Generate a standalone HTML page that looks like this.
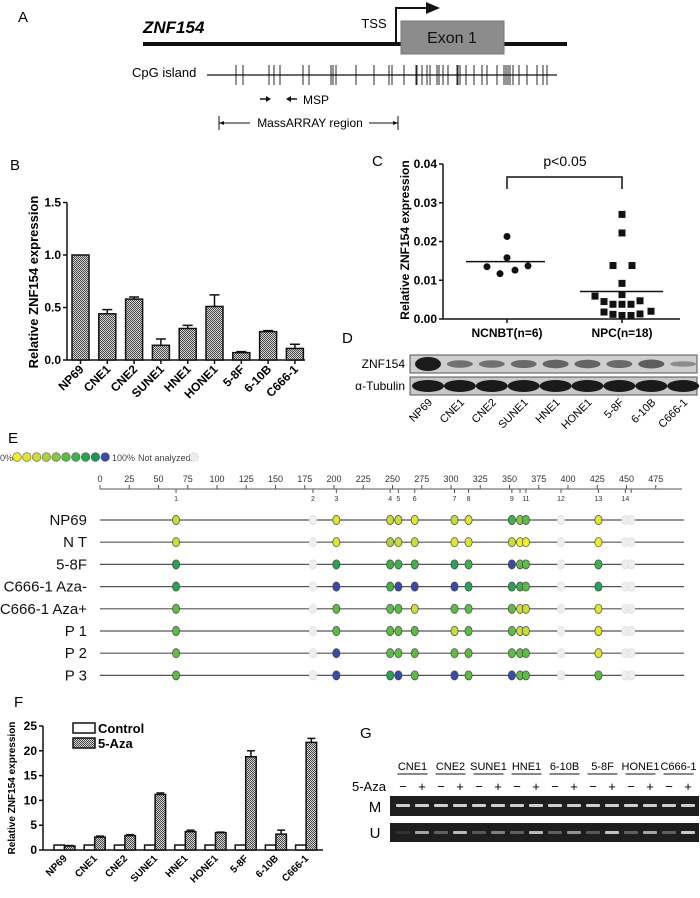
<!DOCTYPE html>
<html><head><meta charset="utf-8">
<style>
html,body{margin:0;padding:0;background:#fff;}
svg{display:block;font-family:"Liberation Sans",Arial,sans-serif;}
</style></head>
<body>
<svg id="fig" width="700" height="898" viewBox="0 0 700 898" xmlns="http://www.w3.org/2000/svg">
<defs>
<pattern id="hatch" width="2" height="2" patternUnits="userSpaceOnUse">
<rect width="2" height="2" fill="#d8d8d8"/><rect width="1" height="1" fill="#444"/><rect x="1" y="1" width="1" height="1" fill="#444"/>
</pattern>
</defs>
<!-- Panel A -->
<g>
<text x="18" y="22" font-size="15">A</text>
<text x="143" y="33" font-size="17" font-weight="bold" font-style="italic">ZNF154</text>
<line x1="143" y1="44" x2="567" y2="44" stroke="#111" stroke-width="4"/>
<rect x="401" y="21" width="103" height="33" fill="#8c8c8c" stroke="#777"/>
<text x="452" y="43" font-size="16" text-anchor="middle" fill="#111">Exon 1</text>
<path d="M396 44 V8 H428" fill="none" stroke="#111" stroke-width="2"/>
<polygon points="426,2 440,8 426,14" fill="#111"/>
<text x="374" y="28" font-size="13" text-anchor="middle">TSS</text>
<text x="132" y="77" font-size="13">CpG island</text>
<line x1="207" y1="75" x2="557" y2="75" stroke="#111" stroke-width="1.2"/>
<g id="cpgTicks"></g>
<line x1="260" y1="99" x2="268" y2="99" stroke="#111" stroke-width="1.5"/>
<polygon points="266,96 271,99 266,102" fill="#111"/>
<line x1="289" y1="99" x2="297" y2="99" stroke="#111" stroke-width="1.5"/>
<polygon points="291,96 286,99 291,102" fill="#111"/>
<text x="303" y="104" font-size="12">MSP</text>
<line x1="219" y1="116" x2="219" y2="130" stroke="#111"/>
<line x1="398" y1="116" x2="398" y2="130" stroke="#111"/>
<line x1="219" y1="123" x2="250" y2="123" stroke="#111"/>
<line x1="369" y1="123" x2="398" y2="123" stroke="#111"/>
<polygon points="219,123 224,121 224,125" fill="#111"/>
<polygon points="398,123 393,121 393,125" fill="#111"/>
<text x="310" y="127" font-size="12" text-anchor="middle">MassARRAY region</text>
</g>
<g id="panelB"></g>
<g id="panelC"></g>
<g id="panelD"></g>
<g id="panelE"></g>
<g id="panelF"></g>
<g id="panelG"></g>
</svg>
<script>
// ---- Data ----
const cpgPositions = [236,243,269,274,280,303,309,331,333,336,356,374,389,392,404,416,417,422,427,430,437,439,443,448,457,458,460,466,474,482,487,497,504,506,508,510,513,519,527,537,543,547];
const cellLines = ["NP69","CNE1","CNE2","SUNE1","HNE1","HONE1","5-8F","6-10B","C666-1"];
const exprB = [1.0,0.44,0.58,0.14,0.30,0.51,0.07,0.27,0.11];
const errB = [0,0.04,0.02,0.06,0.03,0.11,0.01,0.01,0.04];
const ticksB = [0,0.5,1.0,1.5];
const ncnbtVals = [0.0213,0.0158,0.0135,0.0117,0.0126,0.0137];
const ncnbtOff = [0,0,-20,-7,8,21];
const npcVals = [0.027,0.0222,0.0138,0.0138,0.0092,0.0063,0.0059,0.0045,0.0038,0.0038,0.0038,0.0047,0.0018,0.0012,0.0009,0.0009,0.0013,0.002];
const npcOff = [0,0,-9,10,0,0,-27,-18,-9,0,9,18,-18,-9,0,9,18,29];
const ticksC = [0,0.01,0.02,0.03,0.04];
const ncnbtMean = 0.0148, npcMean = 0.0071;
const sitePos = [65,182,202,248,255,269,303,315,352,359,364,394,426,449,454];
const siteLabels = ["1","2","3","4","5","6","7","8","9","","11","12","13","14",""];
const ticksE = [0,25,50,75,100,125,150,175,200,225,250,275,300,325,350,375,400,425,450,475];
const rowNames = ["NP69","N T","5-8F","C666-1 Aza-","C666-1 Aza+","P 1","P 2","P 3"];
// methylation level index per site (0..9), -1 = not analyzed
const methNP69 = [2,-1,1,2,2,1,2,1,6,4,5,-1,1,-1,-1];
const methNT   = [2,-1,1,3,2,2,1,1,2,0,0,-1,0,-1,-1];
const meth58F  = [7,-1,7,6,6,6,7,6,9,5,5,-1,6,-1,-1];
const methAzaM = [7,-1,9,6,9,9,9,7,7,6,5,-1,7,-1,-1];
const methAzaP = [5,-1,5,5,5,2,5,5,5,2,2,-1,1,-1,-1];
const methP1   = [5,-1,5,5,5,5,2,5,5,2,2,-1,1,-1,-1];
const methP2   = [5,-1,9,5,5,5,5,5,5,5,5,-1,1,-1,-1];
const methP3   = [5,-1,9,7,9,5,9,5,9,5,5,-1,5,-1,-1];
const methRows = [methNP69,methNT,meth58F,methAzaM,methAzaP,methP1,methP2,methP3];
const ctrlF = [1,1,1,1,1,1,1,1,1];
const azaF = [0.8,2.6,2.9,11.2,3.7,3.5,18.8,3.2,21.7];
const azaErr = [0.1,0.2,0.2,0.3,0.3,0.1,1.2,0.8,0.8];
const ticksF = [0,5,10,15,20,25];
const gelLines = ["CNE1","CNE2","SUNE1","HNE1","6-10B","5-8F","HONE1","C666-1"];
const uBand = [0.1,0.7,0.35,0.8,0.3,0.5,0.35,0.8,0.35,0.6,0.3,0.85,0.35,0.7,0.35,0.9];
const blotZNF = [1.0,0.35,0.35,0.4,0.45,0.45,0.4,0.5,0.15];

const NS="http://www.w3.org/2000/svg";
function el(tag, attrs, parent, txt){const e=document.createElementNS(NS,tag);for(const k in attrs)e.setAttribute(k,attrs[k]);if(txt!==undefined)e.textContent=txt;parent.appendChild(e);return e;}
const colors=["#f2ee2a","#dfe630","#cadc38","#abd23c","#86c83e","#5cbc44","#40b04a","#2aa254","#1b955e","#3a4aa8"];

// CpG ticks
const cg=document.getElementById('cpgTicks');
cpgPositions.forEach(x=>{const t=el('line',{x1:x,y1:65,x2:x,y2:85,stroke:'#111','stroke-width':0.9},cg);

});

// Panel B
(function(){
const g=document.getElementById('panelB');
const x0=67,y0=360,ppu=105,cx0=80.5,dx=26.8,bw=17;
const yB=v=>y0-v*ppu;
el('text',{x:10,y:170,'font-size':15},g,'B');
el('line',{x1:x0,y1:yB(1.5),x2:x0,y2:y0,stroke:'#111','stroke-width':1.5},g);
el('line',{x1:x0,y1:y0,x2:305,y2:y0,stroke:'#111','stroke-width':1.5},g);
ticksB.forEach(t=>{el('line',{x1:x0-4,y1:yB(t),x2:x0,y2:yB(t),stroke:'#111','stroke-width':1.5},g);
const tx=el('text',{x:x0-6,y:yB(t)+4,'font-size':12,'font-weight':'bold','text-anchor':'end'},g,t.toFixed(1));

});
const yt=el('text',{x:0,y:0,'font-size':13,'font-weight':'bold','text-anchor':'middle',transform:'translate(38,282) rotate(-90)'},g,'Relative ZNF154 expression');


exprB.forEach((v,i)=>{const cx=cx0+i*dx;
el('line',{x1:cx,y1:y0,x2:cx,y2:y0+4,stroke:'#111','stroke-width':1.5},g);
const b=el('rect',{x:cx-bw/2,y:yB(v),width:bw,height:y0-yB(v),fill:'url(#hatch)',stroke:'#111','stroke-width':1.5},g);


if(errB[i]>0){el('line',{x1:cx,y1:yB(v),x2:cx,y2:yB(v+errB[i]),stroke:'#111','stroke-width':1.5},g);
el('line',{x1:cx-5,y1:yB(v+errB[i]),x2:cx+5,y2:yB(v+errB[i]),stroke:'#111','stroke-width':1.5},g);}
const l=el('text',{x:0,y:0,'font-size':12,'font-weight':'bold','text-anchor':'end',transform:`translate(${cx+4},${y0+10}) rotate(-45)`},g,cellLines[i]);

});
})();

// Panel C
(function(){
const g=document.getElementById('panelC');
const x0=443,y0=319,ppu=3875,cA=507,cB=622;
const yC=v=>y0-v*ppu;
el('text',{x:372,y:166,'font-size':15},g,'C');
el('line',{x1:x0,y1:yC(0.04),x2:x0,y2:y0,stroke:'#111','stroke-width':1.5},g);
el('line',{x1:x0,y1:y0,x2:680,y2:y0,stroke:'#111','stroke-width':1.5},g);
ticksC.forEach(t=>{el('line',{x1:x0-4,y1:yC(t),x2:x0,y2:yC(t),stroke:'#111','stroke-width':1.5},g);
const tx=el('text',{x:x0-6,y:yC(t)+4,'font-size':12,'font-weight':'bold','text-anchor':'end'},g,t.toFixed(2));

});
[cA,cB].forEach(c=>el('line',{x1:c,y1:y0,x2:c,y2:y0+4,stroke:'#111','stroke-width':1.5},g));
const yt=el('text',{x:0,y:0,'font-size':12,'font-weight':'bold','text-anchor':'middle',transform:'translate(409,240) rotate(-90)'},g,'Relative ZNF154 expression');


el('text',{x:cA,y:337,'font-size':12,'font-weight':'bold','text-anchor':'middle'},g,'NCNBT(n=6)');
el('text',{x:cB,y:337,'font-size':12,'font-weight':'bold','text-anchor':'middle'},g,'NPC(n=18)');
el('path',{d:`M${cA} 189 V177 H${cB} V189`,fill:'none',stroke:'#111','stroke-width':1.5},g);
el('text',{x:565,y:166,'font-size':14,'text-anchor':'middle'},g,'p<0.05');
ncnbtVals.forEach((v,i)=>{const d=el('circle',{cx:cA+ncnbtOff[i],cy:yC(v),r:3.5,fill:'#111'},g);

});
npcVals.forEach((v,i)=>{const d=el('rect',{x:cB+npcOff[i]-3.5,y:yC(v)-3.5,width:7,height:7,fill:'#111'},g);

});
el('line',{x1:466,y1:yC(ncnbtMean),x2:545,y2:yC(ncnbtMean),stroke:'#111','stroke-width':1.5},g);
el('line',{x1:580,y1:yC(npcMean),x2:663,y2:yC(npcMean),stroke:'#111','stroke-width':1.5},g);
})();

// Panel D
(function(){
const g=document.getElementById('panelD');
el('text',{x:342,y:343,'font-size':15},g,'D');
el('rect',{x:410,y:355,width:287,height:18,fill:'#cfcfcf',stroke:'#555'},g);
el('rect',{x:410,y:377,width:287,height:18,fill:'#c8c8c8',stroke:'#555'},g);
el('text',{x:405,y:368,'font-size':12,'text-anchor':'end'},g,'ZNF154');
el('text',{x:405,y:390,'font-size':12,'text-anchor':'end'},g,'α-Tubulin');
blotZNF.forEach((v,i)=>{const cx=428+i*31.9;
const b=el('ellipse',{cx:cx,cy:364,rx:13,ry:2+5*v,fill:'#111','fill-opacity':0.25+0.7*v},g);


el('ellipse',{cx:cx,cy:386,rx:16,ry:6,fill:'#1a1a1a'},g);
const l=el('text',{x:0,y:0,'font-size':11,'text-anchor':'end',transform:`translate(${cx+5},${403}) rotate(-45)`},g,cellLines[i]);

});
})();

// Panel E
(function(){
const g=document.getElementById('panelE');
const xE=v=>100+v*1.17;
el('text',{x:8,y:443,'font-size':15},g,'E');
el('text',{x:0,y:461,'font-size':9,fill:'#444'},g,'0%');
colors.forEach((c,i)=>el('circle',{cx:17+i*9.8,cy:457,r:4.3,fill:c,stroke:'#555','stroke-width':0.6},g));
el('text',{x:112,y:461,'font-size':9,fill:'#444'},g,'100%');
el('text',{x:138,y:461,'font-size':9,fill:'#444'},g,'Not analyzed:');
el('circle',{cx:194,cy:457,r:4.3,fill:'#eee',stroke:'#ccc','stroke-dasharray':'1,1'},g);
el('line',{x1:100,y1:489,x2:682,y2:489,stroke:'#555'},g);
ticksE.forEach(t=>{el('line',{x1:xE(t),y1:485,x2:xE(t),y2:489,stroke:'#555'},g);
const tx=el('text',{x:xE(t),y:482,'font-size':9,'text-anchor':'middle',fill:'#333'},g,String(t));

});
sitePos.forEach((p,i)=>{el('line',{x1:xE(p),y1:489,x2:xE(p),y2:493,stroke:'#555'},g);
if(siteLabels[i])el('text',{x:xE(p),y:501,'font-size':7,'text-anchor':'middle',fill:'#333'},g,siteLabels[i]);});
rowNames.forEach((n,r)=>{const y=520+r*22.2;
const lb=el('text',{x:87,y:y+5,'font-size':15,'text-anchor':'end',fill:'#111'},g,n);


el('line',{x1:100,y1:y,x2:684,y2:y,stroke:'#555','stroke-width':1.2},g);
methRows[r].forEach((m,i)=>{const d=el('ellipse',{cx:xE(sitePos[i]),cy:y,rx:3.6,ry:4.6,fill:m<0?'#eee':colors[m],stroke:m<0?'#ddd':'#444','stroke-width':0.7},g);

});});
})();

// Panel F
(function(){
const g=document.getElementById('panelF');
const x0=43,y0=850,ppu=4.96,gx0=54,dx=30.2,bw=10.5;
const yF=v=>y0-v*ppu;
el('text',{x:14,y:707,'font-size':15},g,'F');
el('line',{x1:x0,y1:yF(25),x2:x0,y2:y0,stroke:'#111','stroke-width':1.5},g);
el('line',{x1:x0,y1:y0,x2:323,y2:y0,stroke:'#111','stroke-width':1.5},g);
ticksF.forEach(t=>{el('line',{x1:x0-4,y1:yF(t),x2:x0,y2:yF(t),stroke:'#111','stroke-width':1.5},g);
const tx=el('text',{x:x0-6,y:yF(t)+4,'font-size':12,'font-weight':'bold','text-anchor':'end'},g,String(t));

});
const yt=el('text',{x:0,y:0,'font-size':10,'font-weight':'bold','text-anchor':'middle',transform:'translate(15,788) rotate(-90)'},g,'Relative ZNF154 expression');


el('rect',{x:73,y:723,width:22,height:10,fill:'#fff',stroke:'#111','stroke-width':1.5},g);
el('text',{x:98,y:733,'font-size':13,'font-weight':'bold'},g,'Control');
el('rect',{x:73,y:738,width:22,height:10,fill:'url(#hatch)',stroke:'#111','stroke-width':1.5},g);
el('text',{x:98,y:748,'font-size':13,'font-weight':'bold'},g,'5-Aza');
cellLines.forEach((n,i)=>{const gx=gx0+i*dx;
const c=el('rect',{x:gx,y:yF(ctrlF[i]),width:bw,height:y0-yF(ctrlF[i]),fill:'#fff',stroke:'#111','stroke-width':1.5},g);


const a=el('rect',{x:gx+bw,y:yF(azaF[i]),width:bw,height:y0-yF(azaF[i]),fill:'url(#hatch)',stroke:'#111','stroke-width':1.5},g);


const ex=gx+bw*1.5;
el('line',{x1:ex,y1:yF(azaF[i]),x2:ex,y2:yF(azaF[i]+azaErr[i]),stroke:'#111','stroke-width':1.5},g);
el('line',{x1:ex-4,y1:yF(azaF[i]+azaErr[i]),x2:ex+4,y2:yF(azaF[i]+azaErr[i]),stroke:'#111','stroke-width':1.5},g);
const l=el('text',{x:0,y:0,'font-size':10,'font-weight':'bold','text-anchor':'end',transform:`translate(${gx+bw+3},${y0+9}) rotate(-45)`},g,n);

});
})();

// Panel G
(function(){
const g=document.getElementById('panelG');
el('text',{x:360,y:738,'font-size':15},g,'G');
el('text',{x:352,y:791,'font-size':13},g,'5-Aza');
el('rect',{x:390,y:796,width:309,height:20,fill:'#1e1e1e'},g);
el('rect',{x:390,y:823,width:309,height:19,fill:'#1e1e1e'},g);
el('text',{x:375,y:812,'font-size':15,'text-anchor':'middle'},g,'M');
el('text',{x:375,y:838,'font-size':15,'text-anchor':'middle'},g,'U');
const lx=i=>403+i*19;
gelLines.forEach((n,k)=>{const cx=(lx(2*k)+lx(2*k+1))/2;
const t=el('text',{x:cx,y:770,'font-size':11,'text-anchor':'middle'},g,n);


el('line',{x1:cx-15,y1:774,x2:cx+15,y2:774,stroke:'#111'},g);});
uBand.forEach((v,i)=>{const x=lx(i);
el('text',{x:x,y:791,'font-size':13,'text-anchor':'middle'},g,i%2?'+':'−');
el('rect',{x:x-7,y:804,width:14,height:3,fill:'#cfcfcf',rx:1},g);
const b=el('rect',{x:x-7,y:831,width:14,height:3,fill:'#ddd','fill-opacity':v,rx:1},g);

});
})();
</script>
</body></html>
